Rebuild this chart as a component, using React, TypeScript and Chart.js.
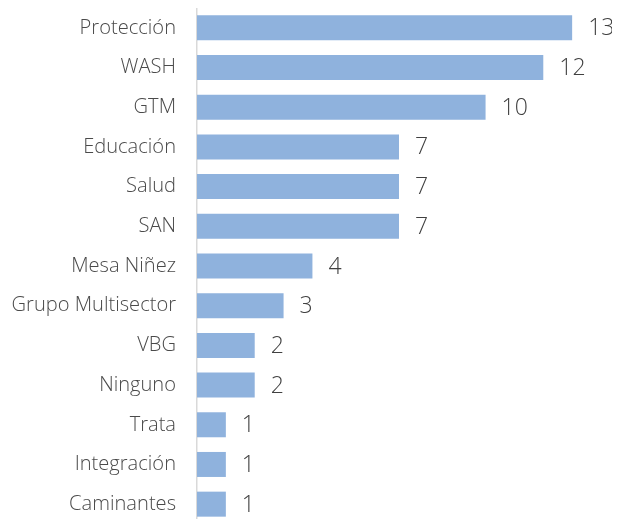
import React, { useEffect, useRef } from "react";
import { Chart, registerables } from "chart.js";

Chart.register(...registerables);

const categories = [
  "Protección",
  "WASH",
  "GTM",
  "Educación",
  "Salud",
  "SAN",
  "Mesa Niñez",
  "Grupo Multisector",
  "VBG",
  "Ninguno",
  "Trata",
  "Integración",
  "Caminantes",
];
const values = [13, 12, 10, 7, 7, 7, 4, 3, 2, 2, 1, 1, 1];

const valueLabels = {
  id: "valueLabels",
  afterDatasetsDraw(chart: any) {
    const ctx = chart.ctx;
    const meta = chart.getDatasetMeta(0);
    ctx.save();
    ctx.font = "300 23px 'Open Sans', 'Liberation Sans', Arial, sans-serif";
    ctx.fillStyle = "#404040";
    ctx.textAlign = "left";
    ctx.textBaseline = "middle";
    meta.data.forEach((bar: any, i: number) => {
      ctx.fillText(String(values[i]), bar.x + 16, bar.y + 1);
    });
    ctx.restore();
  },
};

export default function App() {
  const ref = useRef<HTMLCanvasElement>(null);
  useEffect(() => {
    if (!ref.current) return;
    const chart = new Chart(ref.current, {
      type: "bar",
      data: {
        labels: categories,
        datasets: [
          {
            data: values,
            backgroundColor: "#8FB2DD",
            borderWidth: 0,
            categoryPercentage: 1,
            barPercentage: 0.63,
          },
        ],
      },
      options: {
        indexAxis: "y",
        responsive: false,
        animation: false,
        layout: { padding: { top: 0, bottom: 0, left: 0, right: 19 } },
        plugins: {
          legend: { display: false },
          tooltip: { enabled: false },
        },
        scales: {
          x: { display: false, min: 0, max: 14 },
          y: {
            grid: { display: false, drawTicks: false },
            border: { display: true, color: "#D9D9D9", width: 1.5 },
            ticks: {
              padding: 21,
              color: "#4A4A4A",
              font: { family: "'Open Sans', 'Liberation Sans', Arial, sans-serif", size: 20.1, weight: "300" },
            },
            afterFit(scale: any) {
              scale.width = 189;
              scale.paddingTop = 0;
              scale.paddingBottom = 0;
            },
          },
        },
      },
      plugins: [valueLabels],
    });
    return () => chart.destroy();
  }, []);
  return (
    <div>
      <style>{`html,body{overflow:hidden}`}</style>
      <canvas ref={ref} width={612} height={516} style={{ display: "block" }} />
    </div>
  );
}
